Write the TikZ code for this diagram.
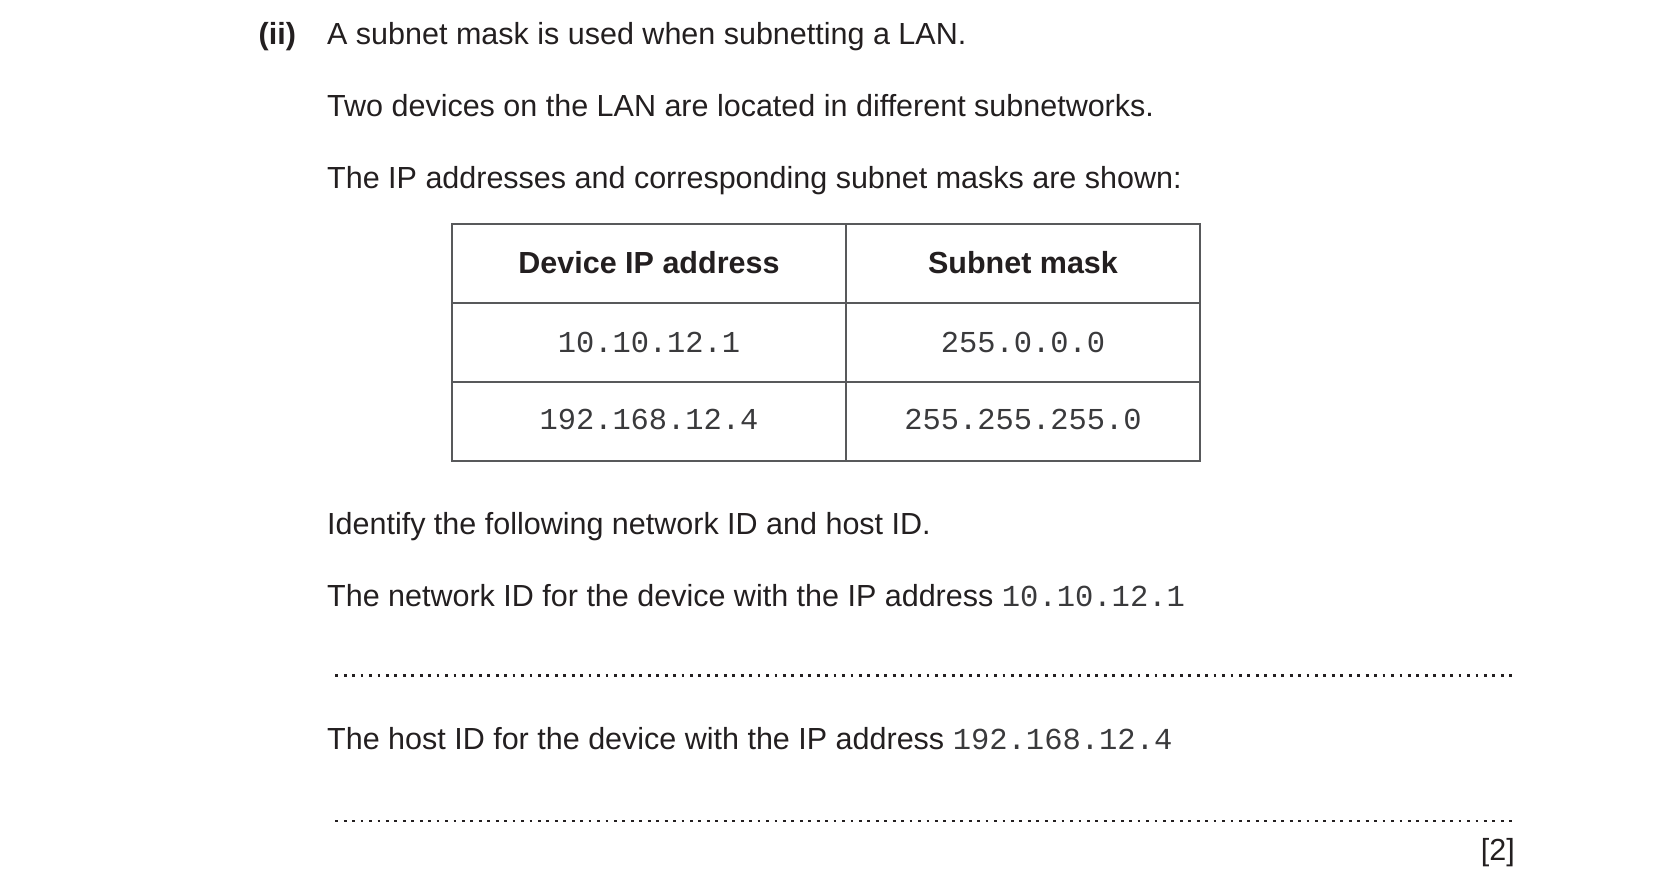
\documentclass[tikz,border=0pt]{standalone}
\usepackage{fontspec}
\setmainfont{Liberation Sans}
\setmonofont{Liberation Mono}

\definecolor{ink}{HTML}{231F20}
\definecolor{rulegray}{HTML}{58595B}
\definecolor{monoink}{HTML}{3A3A3C}
\newcommand{\qsize}{\fontsize{30.5}{36}\selectfont}
\newcommand{\ipsize}{\fontsize{30.5}{36}\selectfont\ttfamily\color{monoink}}
\newcommand{\cellsize}{\fontsize{30.4}{36}\selectfont\ttfamily}

\begin{document}
\begin{tikzpicture}[
			x=1pt, y=-1pt,
			every node/.style={inner sep=0pt, text=ink, font=\qsize},
			txt/.style={anchor=base west},
			head/.style={anchor=base, font=\qsize\bfseries},
			cell/.style={anchor=base, font=\cellsize, text=monoink},
			answer/.style={line width=2.8pt, dash pattern=on 2.8pt off 5.646pt, ink}
		]
			\useasboundingbox (0,0) rectangle (1654,885);
			
			% question
			\node[txt, font=\qsize\bfseries] (part) at (258.5,45) {(ii)};
			\node[txt] (intro) at (327,45) {A subnet mask is used when subnetting a LAN.};
			\node[txt] (devices) at (327,116.7) {Two devices on the LAN are located in different subnetworks.};
			\node[txt] (shown) at (327,188.3) {The IP addresses and corresponding subnet masks are shown:};
			
			% table
			\draw[rulegray, line width=1.4pt] (452,224) rectangle (1200,461);
			\foreach \yy in {303,382}
				\draw[rulegray, line width=1.4pt] (452,\yy) -- (1200,\yy);
			\draw[rulegray, line width=1.4pt] (846,224) -- (846,461);
			
			\node[head] (hdip) at (649,273.3) {Device IP address};
			\node[head] (hdmask) at (1023,273.3) {Subnet mask};
			\node[cell] (ipa) at (649,352.2) {10.10.12.1};
			\node[cell] (maska) at (1023,352.2) {255.0.0.0};
			\node[cell] (ipb) at (649,429.5) {192.168.12.4};
			\node[cell] (maskb) at (1023,429.5) {255.255.255.0};
			
			% tasks
			\node[txt] (identify) at (327,534) {Identify the following network ID and host ID.};
			\node[txt] (netq) at (327,606) {The network ID for the device with the IP address {\ipsize 10.10.12.1}};
			\coordinate (neta) at (335.3,675.7);
			\coordinate (netb) at (1512.5,675.7);
			\draw[answer] (neta) -- (netb);
			
			\node[txt] (hostq) at (327,749.3) {The host ID for the device with the IP address {\ipsize 192.168.12.4}};
			\coordinate (hosta) at (335.3,821);
			\coordinate (hostb) at (1512.5,821);
			\draw[answer] (hosta) -- (hostb);
			
			\node[anchor=base east] (marks) at (1515,860) {[2]};
		\end{tikzpicture}
\end{document}
